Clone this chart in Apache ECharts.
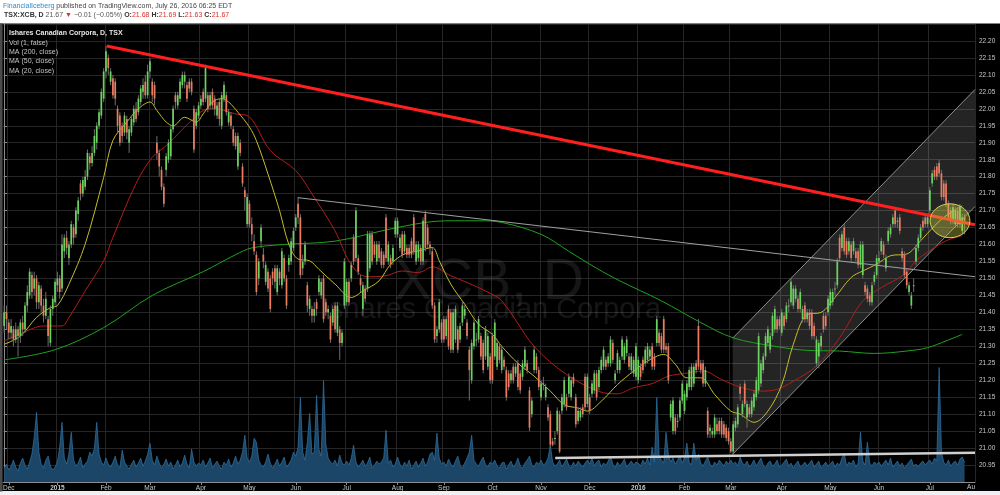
<!DOCTYPE html>
<html><head><meta charset="utf-8">
<script src="https://cdn.jsdelivr.net/npm/echarts@6/dist/echarts.min.js"></script>
<style>html,body{margin:0;padding:0;background:#000;}#c{width:1000px;height:495px;}</style>
</head><body><div id="c"></div>
<script>
const FONT = '"Liberation Sans", Arial, sans-serif';
const holidays = ['2014-12-25','2014-12-26','2015-01-01','2015-02-16','2015-04-03','2015-05-18','2015-07-01','2015-08-03','2015-09-07','2015-10-12','2015-12-25','2015-12-28','2016-01-01','2016-02-15','2016-03-25','2016-05-23','2016-07-01','2016-08-01'];
const monthNames = ['Jan','Feb','Mar','Apr','May','Jun','Jul','Aug','Sep','Oct','Nov','Dec'];
const slotCount = 420;
const yTicks = {min: 20.90, max: 22.25, step: 0.05};

// daily candles [open, close, low, high]
const candles = [
// Nov 27-28 2014
[21.36,21.40,21.34,21.42],[21.40,21.38,21.35,21.42],
// Dec 2014
[21.37,21.34,21.32,21.38],[21.34,21.36,21.32,21.38],[21.35,21.32,21.30,21.36],[21.32,21.35,21.31,21.37],[21.35,21.33,21.27,21.36],[21.33,21.37,21.31,21.38],[21.37,21.35,21.33,21.39],[21.35,21.42,21.34,21.43],[21.42,21.46,21.40,21.48],[21.45,21.52,21.44,21.53],[21.51,21.46,21.44,21.52],[21.47,21.50,21.45,21.52],[21.50,21.43,21.41,21.51],[21.43,21.48,21.41,21.49],[21.47,21.42,21.40,21.48],[21.42,21.39,21.37,21.44],[21.39,21.44,21.38,21.46],[21.38,21.33,21.30,21.39],[21.31,21.41,21.30,21.42],[21.41,21.44,21.39,21.45],[21.43,21.49,21.42,21.50],
// Jan 2015
[21.48,21.50,21.46,21.52],[21.50,21.46,21.44,21.51],[21.47,21.60,21.46,21.63],[21.58,21.62,21.56,21.63],[21.62,21.59,21.57,21.64],[21.56,21.60,21.54,21.61],[21.60,21.66,21.59,21.67],[21.65,21.62,21.60,21.66],[21.63,21.70,21.62,21.71],[21.69,21.73,21.67,21.74],[21.78,21.75,21.73,21.79],[21.75,21.79,21.74,21.80],[21.77,21.80,21.76,21.82],[21.80,21.87,21.79,21.88],[21.86,21.84,21.82,21.87],[21.84,21.87,21.83,21.89],[21.87,21.92,21.86,21.94],[21.90,21.95,21.88,21.96],[21.95,21.99,21.94,22.00],[21.98,22.05,21.97,22.06],[22.03,22.11,22.02,22.12],
// Feb 2015
[22.11,22.17,22.09,22.185],[22.15,22.12,22.10,22.16],[22.08,22.11,22.07,22.12],[22.09,22.04,22.03,22.10],[22.08,22.03,22.01,22.09],[22.00,21.95,21.93,22.01],[21.98,21.90,21.89,21.99],[21.95,21.92,21.90,21.96],[21.93,21.98,21.92,21.99],[21.97,21.93,21.91,21.98],[21.90,21.94,21.87,21.95],[21.93,21.97,21.92,21.98],[21.96,22.00,21.95,22.01],[22.00,21.97,21.96,22.02],[21.99,22.03,21.98,22.04],[22.02,22.06,22.01,22.07],[22.05,22.07,22.03,22.09],[22.08,22.04,22.03,22.10],[22.04,22.11,22.03,22.13],
// Mar 2015
[22.11,22.14,22.09,22.15],[22.08,22.04,22.02,22.09],[22.07,22.03,22.01,22.08],[21.90,21.87,21.85,21.92],[21.87,21.83,21.80,21.88],[21.82,21.77,21.76,21.83],[21.77,21.72,21.71,21.78],[21.82,21.86,21.80,21.87],[21.85,21.90,21.84,21.91],[21.86,21.94,21.85,21.95],[21.94,22.00,21.93,22.01],[22.04,22.02,22.00,22.05],[22.01,22.04,22.00,22.05],[22.03,22.08,22.02,22.09],[22.07,22.10,22.06,22.11],[22.08,22.10,22.06,22.11],[22.07,22.03,22.02,22.08],[22.08,22.06,22.05,22.09],[22.08,22.05,22.04,22.09],[22.00,21.88,21.87,22.01],[21.95,21.99,21.94,22.00],[21.98,22.01,21.97,22.02],
// Apr 2015
[22.01,22.03,22.00,22.04],[22.05,22.02,22.01,22.06],[22.03,22.12,22.02,22.13],[22.04,22.00,21.99,22.05],[22.01,22.04,22.00,22.05],[22.05,22.01,22.00,22.06],[22.03,22.00,21.98,22.04],[21.98,22.01,21.97,22.02],[22.02,21.97,21.95,22.03],[21.95,22.04,21.94,22.05],[22.03,22.07,22.02,22.08],[22.04,21.99,21.98,22.05],[21.96,21.99,21.95,22.00],[21.98,21.95,21.94,21.99],[21.94,21.90,21.89,21.95],[21.92,21.89,21.88,21.93],[21.83,21.92,21.82,21.93],[21.90,21.87,21.86,21.91],[21.83,21.78,21.77,21.84],[21.76,21.74,21.70,21.77],[21.66,21.74,21.65,21.75],
// May 2015
[21.72,21.66,21.65,21.73],[21.66,21.63,21.61,21.68],[21.61,21.58,21.57,21.63],[21.57,21.46,21.45,21.58],[21.50,21.55,21.48,21.56],[21.61,21.65,21.59,21.66],[21.57,21.55,21.53,21.59],[21.49,21.54,21.48,21.55],[21.52,21.47,21.46,21.53],[21.50,21.41,21.40,21.51],[21.52,21.50,21.48,21.53],[21.53,21.49,21.47,21.54],[21.46,21.53,21.45,21.54],[21.52,21.50,21.48,21.53],[21.48,21.58,21.47,21.59],[21.56,21.50,21.49,21.57],[21.50,21.42,21.41,21.51],[21.54,21.56,21.52,21.57],[21.55,21.61,21.54,21.62],[21.59,21.64,21.58,21.65],
// Jun 2015
[21.65,21.68,21.64,21.69],[21.72,21.68,21.66,21.74],[21.68,21.51,21.50,21.69],[21.53,21.55,21.51,21.57],[21.55,21.60,21.54,21.61],[21.48,21.42,21.40,21.49],[21.41,21.44,21.39,21.45],[21.41,21.39,21.37,21.42],[21.39,21.41,21.37,21.43],[21.43,21.41,21.39,21.44],[21.46,21.50,21.45,21.51],[21.45,21.49,21.44,21.50],[21.50,21.38,21.37,21.51],[21.43,21.40,21.39,21.44],[21.40,21.41,21.38,21.42],[21.39,21.32,21.31,21.40],[21.37,21.41,21.36,21.42],[21.42,21.35,21.34,21.43],[21.34,21.42,21.33,21.43],[21.35,21.31,21.26,21.36],[21.31,21.34,21.30,21.35],[21.42,21.55,21.41,21.56],
// Jul 2015
[21.43,21.49,21.42,21.50],[21.49,21.43,21.42,21.50],[21.50,21.54,21.49,21.55],[21.62,21.55,21.54,21.63],[21.56,21.70,21.55,21.71],[21.56,21.52,21.51,21.57],[21.50,21.48,21.46,21.51],[21.41,21.48,21.39,21.49],[21.47,21.44,21.43,21.48],[21.47,21.63,21.46,21.64],[21.53,21.63,21.52,21.64],[21.63,21.55,21.54,21.64],[21.60,21.57,21.56,21.61],[21.55,21.60,21.54,21.61],[21.60,21.56,21.55,21.61],[21.58,21.54,21.53,21.59],[21.57,21.54,21.53,21.58],[21.68,21.56,21.55,21.69],[21.55,21.60,21.54,21.61],[21.56,21.54,21.53,21.57],[21.55,21.59,21.54,21.60],[21.63,21.67,21.62,21.68],
// Aug 2015
[21.63,21.67,21.62,21.68],[21.59,21.62,21.58,21.63],[21.63,21.57,21.56,21.64],[21.58,21.63,21.57,21.64],[21.59,21.57,21.56,21.60],[21.59,21.57,21.56,21.60],[21.61,21.57,21.56,21.62],[21.68,21.58,21.57,21.69],[21.55,21.60,21.54,21.61],[21.56,21.60,21.55,21.61],[21.59,21.55,21.54,21.60],[21.55,21.67,21.54,21.68],[21.69,21.59,21.58,21.70],[21.65,21.60,21.59,21.66],[21.60,21.59,21.57,21.61],[21.58,21.42,21.41,21.59],[21.42,21.32,21.31,21.43],[21.33,21.35,21.31,21.36],[21.35,21.43,21.34,21.44],[21.37,21.32,21.31,21.38],
// Sep 2015
[21.38,21.32,21.31,21.39],[21.33,21.38,21.32,21.39],[21.41,21.30,21.29,21.42],[21.40,21.29,21.28,21.41],[21.29,21.40,21.28,21.41],[21.32,21.41,21.31,21.42],[21.35,21.29,21.28,21.36],[21.32,21.36,21.31,21.37],[21.37,21.42,21.36,21.43],[21.39,21.41,21.38,21.42],[21.37,21.33,21.32,21.38],[21.29,21.23,21.14,21.30],[21.20,21.31,21.19,21.32],[21.30,21.37,21.29,21.38],[21.32,21.32,21.30,21.34],[21.32,21.38,21.31,21.39],[21.33,21.27,21.26,21.34],[21.31,21.23,21.22,21.32],[21.27,21.35,21.26,21.36],[21.24,21.33,21.23,21.34],[21.27,21.20,21.19,21.28],
// Oct 2015
[21.33,21.20,21.19,21.34],[21.27,21.37,21.26,21.38],[21.24,21.31,21.23,21.32],[21.30,21.26,21.25,21.31],[21.23,21.29,21.22,21.30],[21.26,21.24,21.23,21.27],[21.23,21.15,21.14,21.24],[21.22,21.18,21.17,21.23],[21.20,21.22,21.19,21.23],[21.24,21.20,21.19,21.25],[21.22,21.24,21.21,21.25],[21.25,21.18,21.17,21.26],[21.22,21.17,21.16,21.23],[21.21,21.25,21.20,21.26],[21.24,21.29,21.23,21.30],[21.25,21.23,21.22,21.26],[21.17,21.06,21.05,21.18],[21.10,21.14,21.09,21.15],[21.23,21.29,21.22,21.30],[21.27,21.23,21.22,21.28],[21.23,21.18,21.17,21.24],
// Nov 2015
[21.15,21.19,21.14,21.20],[21.19,21.19,21.17,21.21],[21.15,21.18,21.14,21.19],[21.12,21.09,21.08,21.13],[21.10,21.01,21.00,21.11],[21.02,21.01,21.005,21.03],[21.03,21.03,21.01,21.05],[21.05,21.11,21.04,21.12],[21.10,20.99,20.985,21.11],[21.11,21.15,21.10,21.16],[21.13,21.20,21.12,21.21],[21.15,21.12,21.11,21.16],[21.16,21.21,21.15,21.22],[21.15,21.20,21.14,21.21],[21.21,21.19,21.18,21.22],[21.15,21.07,21.06,21.16],[21.08,21.11,21.07,21.12],[21.09,21.11,21.08,21.12],[21.12,21.10,21.09,21.13],[21.21,21.12,21.11,21.22],[21.13,21.21,21.12,21.22],
// Dec 2015
[21.15,21.11,21.10,21.16],[21.16,21.19,21.15,21.20],[21.17,21.22,21.16,21.23],[21.22,21.15,21.14,21.23],[21.18,21.23,21.17,21.24],[21.23,21.26,21.22,21.27],[21.24,21.29,21.23,21.30],[21.26,21.24,21.23,21.27],[21.25,21.27,21.24,21.28],[21.25,21.32,21.24,21.33],[21.31,21.26,21.25,21.32],[21.20,21.22,21.19,21.23],[21.23,21.28,21.22,21.29],[21.23,21.26,21.22,21.27],[21.27,21.32,21.26,21.33],[21.26,21.30,21.25,21.31],[21.28,21.32,21.27,21.33],[21.27,21.24,21.23,21.28],[21.23,21.27,21.22,21.28],[21.22,21.26,21.21,21.27],[21.21,21.30,21.20,21.31],
// Jan 2016
[21.20,21.26,21.19,21.27],[21.24,21.21,21.20,21.25],[21.26,21.23,21.22,21.27],[21.25,21.29,21.24,21.30],[21.26,21.30,21.25,21.31],[21.27,21.29,21.26,21.30],[21.30,21.24,21.23,21.31],[21.27,21.24,21.23,21.28],[21.31,21.38,21.30,21.39],[21.34,21.31,21.30,21.35],[21.33,21.29,21.28,21.34],[21.38,21.29,21.28,21.39],[21.30,21.29,21.28,21.31],[21.30,21.20,21.19,21.31],[21.09,21.13,21.08,21.14],[21.05,21.14,21.04,21.15],[21.09,21.05,21.04,21.10],[21.08,21.08,21.06,21.10],[21.09,21.14,21.08,21.15],[21.14,21.19,21.13,21.20],
// Feb 2016
[21.11,21.16,21.10,21.17],[21.15,21.19,21.14,21.20],[21.18,21.23,21.17,21.24],[21.18,21.24,21.17,21.25],[21.19,21.24,21.18,21.25],[21.25,21.23,21.22,21.26],[21.36,21.24,21.23,21.38],[21.25,21.23,21.22,21.26],[21.25,21.19,21.18,21.26],[21.19,21.23,21.18,21.24],[21.11,21.04,21.03,21.12],[21.05,21.06,21.03,21.07],[21.04,21.05,21.03,21.06],[21.04,21.09,21.03,21.10],[21.07,21.05,21.04,21.09],[21.08,21.05,21.04,21.09],[21.08,21.04,21.03,21.09],[21.07,21.04,21.03,21.08],[21.06,21.03,21.02,21.07],[21.05,21.02,21.01,21.06],
// Mar 2016
[21.02,20.99,20.985,21.03],[20.99,21.07,20.98,21.08],[21.06,21.08,21.05,21.09],[21.07,21.12,21.06,21.13],[21.18,21.16,21.14,21.19],[21.10,21.13,21.09,21.14],[21.19,21.13,21.12,21.20],[21.09,21.13,21.06,21.14],[21.12,21.10,21.09,21.13],[21.10,21.14,21.09,21.15],[21.12,21.16,21.11,21.17],[21.15,21.20,21.14,21.21],[21.17,21.33,21.16,21.34],[21.19,21.25,21.18,21.26],[21.23,21.27,21.22,21.28],[21.27,21.33,21.26,21.34],[21.31,21.35,21.30,21.36],[21.29,21.33,21.28,21.34],[21.33,21.39,21.32,21.40],[21.35,21.41,21.34,21.42],[21.38,21.35,21.34,21.39],[21.38,21.36,21.35,21.39],
// Apr 2016
[21.34,21.40,21.33,21.41],[21.39,21.36,21.35,21.40],[21.38,21.42,21.37,21.43],[21.42,21.42,21.40,21.44],[21.43,21.49,21.42,21.50],[21.42,21.47,21.41,21.48],[21.44,21.47,21.43,21.48],[21.44,21.41,21.40,21.45],[21.41,21.46,21.40,21.47],[21.38,21.41,21.37,21.42],[21.42,21.38,21.37,21.43],[21.38,21.40,21.37,21.41],[21.40,21.36,21.35,21.41],[21.40,21.33,21.32,21.41],[21.36,21.33,21.32,21.37],[21.25,21.32,21.24,21.33],[21.27,21.31,21.235,21.32],[21.30,21.33,21.29,21.34],[21.39,21.35,21.34,21.40],[21.39,21.36,21.35,21.40],[21.40,21.44,21.39,21.45],
// May 2016
[21.42,21.46,21.41,21.47],[21.43,21.46,21.42,21.47],[21.47,21.47,21.45,21.49],[21.48,21.55,21.47,21.56],[21.62,21.56,21.55,21.63],[21.59,21.63,21.58,21.64],[21.65,21.58,21.57,21.66],[21.61,21.57,21.56,21.62],[21.58,21.61,21.57,21.62],[21.60,21.56,21.55,21.61],[21.58,21.61,21.57,21.62],[21.58,21.56,21.55,21.59],[21.58,21.54,21.53,21.59],[21.54,21.60,21.53,21.61],[21.51,21.60,21.50,21.61],[21.48,21.46,21.45,21.49],[21.47,21.44,21.43,21.48],[21.45,21.43,21.42,21.46],[21.43,21.48,21.42,21.49],[21.49,21.51,21.48,21.52],[21.51,21.56,21.50,21.57],
// Jun 2016
[21.55,21.56,21.54,21.58],[21.58,21.61,21.57,21.62],[21.60,21.57,21.56,21.61],[21.53,21.56,21.52,21.57],[21.61,21.64,21.60,21.65],[21.63,21.65,21.62,21.66],[21.66,21.68,21.65,21.69],[21.70,21.66,21.65,21.71],[21.67,21.67,21.65,21.68],[21.68,21.64,21.63,21.69],[21.58,21.56,21.55,21.59],[21.57,21.51,21.50,21.58],[21.52,21.48,21.47,21.53],[21.46,21.48,21.45,21.49],[21.42,21.45,21.41,21.46],[21.48,21.48,21.46,21.50],[21.55,21.59,21.54,21.60],[21.59,21.62,21.58,21.63],[21.62,21.65,21.61,21.66],[21.67,21.65,21.64,21.68],[21.68,21.66,21.65,21.69],[21.66,21.68,21.65,21.69],
// Jul 2016
[21.70,21.76,21.69,21.77],[21.78,21.81,21.77,21.82],[21.82,21.80,21.79,21.83],[21.83,21.80,21.79,21.84],[21.84,21.81,21.80,21.85],[21.81,21.74,21.73,21.82],[21.78,21.74,21.73,21.79],[21.78,21.72,21.71,21.79],[21.72,21.68,21.67,21.73],[21.70,21.67,21.66,21.71],[21.67,21.71,21.66,21.72],[21.66,21.70,21.65,21.71],[21.70,21.66,21.65,21.71],[21.66,21.71,21.65,21.72],[21.64,21.68,21.63,21.69],[21.68,21.67,21.63,21.69]
];

// daily volume (thousands of shares)
const volumes = [
14,18,12,16,22,15,11,19,24,17,13,20,28,45,70,30,18,14,22,26,16,12,15,
20,35,60,24,18,28,50,22,16,19,25,14,18,21,30,26,34,60,28,20,17,
24,18,15,20,26,17,14,32,20,16,13,18,22,15,19,24,16,21,28,
39,22,17,26,19,14,18,23,16,20,13,17,22,15,19,27,18,14,33,20,16,19,
17,22,15,19,24,14,18,21,16,13,20,17,23,15,19,26,18,22,30,47,24,
20,26,44,40,22,17,15,20,28,19,14,18,23,16,20,25,15,18,22,30,
26,35,85,30,22,40,69,28,30,87,33,26,102,38,24,20,18,22,16,27,19,17,
21,17,24,37,20,15,18,22,16,19,25,14,17,21,18,20,24,52,19,22,15,18,
25,18,14,20,16,22,13,17,21,15,19,24,16,20,28,30,22,49,24,18,
20,16,23,18,15,21,26,17,14,19,24,30,47,22,18,16,21,25,17,15,20,
18,22,16,14,19,20,13,17,21,15,18,24,16,14,19,22,26,17,15,20,18,
22,17,19,24,37,20,16,18,22,15,19,23,17,14,20,16,21,18,15,19,22,
18,24,16,20,22,15,19,17,21,26,18,14,20,16,19,23,15,18,21,17,20,
19,16,22,18,24,17,35,20,85,26,22,19,50,28,20,24,18,22,26,19,
24,39,20,17,39,22,28,19,16,21,25,18,15,20,17,22,19,16,21,18,
22,18,20,16,25,19,17,21,15,18,22,16,20,24,17,14,19,21,16,18,22,15,
17,20,23,16,19,14,18,21,15,17,20,16,19,22,15,18,21,14,17,20,16,
18,21,15,19,17,24,29,16,20,18,22,15,19,50,21,17,40,19,16,20,18,
20,16,19,22,17,24,15,18,21,16,19,14,17,20,23,16,18,15,19,21,17,20,
22,18,24,21,115,30,20,17,22,16,19,21,17,23,25,20
];

// moving averages read at key bars [barIndex, value]
const ma200Pts = [[0,21.26],[22,21.29],[43,21.355],[64,21.45],[86,21.52],[100,21.57],[107,21.59],[121,21.60],[143,21.61],[165,21.643],[182,21.665],[193,21.67],[205,21.67],[215,21.665],[232,21.63],[244,21.58],[256,21.53],[266,21.493],[284,21.434],[301,21.37],[315,21.325],[333,21.30],[347,21.288],[361,21.286],[376,21.279],[390,21.286],[399,21.296],[407,21.316],[414,21.335]];
const ma50Pts = [[0,21.316],[8,21.34],[17,21.36],[25,21.36],[28,21.385],[35,21.463],[43,21.552],[47,21.621],[57,21.78],[64,21.857],[71,21.897],[80,21.96],[86,21.995],[91,22.00],[100,21.985],[106,21.976],[115,21.877],[126,21.818],[133,21.749],[143,21.64],[150,21.54],[157,21.505],[165,21.508],[172,21.522],[179,21.517],[185,21.534],[193,21.508],[200,21.488],[208,21.463],[215,21.434],[229,21.30],[243,21.217],[257,21.167],[265,21.16],[272,21.178],[280,21.19],[287,21.212],[294,21.22],[302,21.227],[310,21.202],[318,21.18],[327,21.168],[334,21.173],[341,21.197],[351,21.242],[361,21.325],[371,21.434],[379,21.473],[389,21.512],[394,21.552],[400,21.582],[407,21.611],[414,21.626]];
const ma20Pts = [[0,21.306],[7,21.33],[14,21.385],[20,21.414],[23,21.42],[28,21.483],[35,21.601],[43,21.798],[47,21.907],[53,21.961],[58,22.00],[63,22.02],[66,21.995],[70,21.961],[73,21.95],[78,21.975],[83,21.961],[86,21.985],[90,22.02],[94,22.03],[97,22.02],[101,21.99],[106,21.946],[109,21.906],[114,21.808],[119,21.70],[123,21.601],[127,21.557],[132,21.552],[136,21.527],[143,21.483],[150,21.444],[155,21.463],[162,21.493],[167,21.542],[173,21.572],[179,21.581],[185,21.591],[188,21.552],[193,21.483],[199,21.424],[205,21.365],[211,21.335],[215,21.30],[222,21.25],[229,21.212],[236,21.168],[242,21.128],[248,21.118],[252,21.109],[258,21.138],[265,21.187],[272,21.227],[278,21.256],[285,21.276],[290,21.247],[295,21.207],[301,21.207],[307,21.158],[314,21.109],[318,21.10],[324,21.076],[330,21.109],[336,21.187],[341,21.306],[347,21.394],[353,21.40],[359,21.444],[366,21.503],[371,21.522],[377,21.542],[383,21.567],[390,21.572],[396,21.611],[402,21.655],[407,21.685],[414,21.714]];

// drawings [barIndex, price]
const resistanceLine = [[44.3,22.185],[419.5,21.658]];
const grayTrendLine = [[127,21.738],[419.5,21.505]];
const supportLine = [[238.1,20.971],[419.5,20.986]];
const channelUpper = [[314.8,21.324],[419.5,22.057]];
const channelLower = [[314.8,20.982],[419.5,21.712]];
const highlight = {center:[408.7,21.670], rx:8.6, ry:0.05};

// trading-day categories
const dates = [];
(function(){
  const hs = new Set(holidays);
  const d = new Date(Date.UTC(2014,10,27));
  while (dates.length < slotCount) {
    const dow = d.getUTCDay(); const s = d.toISOString().slice(0,10);
    if (dow !== 0 && dow !== 6 && !hs.has(s)) dates.push(s);
    d.setUTCDate(d.getUTCDate()+1);
  }
})();
const monthStart = dates.map((s,i)=> i>0 && s.slice(0,7)!==dates[i-1].slice(0,7));
const monthTick = (i)=> !!monthStart[i];
const monthLabel = (v)=>{ const m=+v.slice(5,7); return m===1 ? '{y|'+v.slice(0,4)+'}' : monthNames[m-1]; };

const UP='#6ad35e', DOWN='#ec7b60', WICK='#6e6e6e';
const candleData = candles.map((d,i)=>[i,d[0],d[1],d[2],d[3]]);
const last = candles[candles.length-1];
const prevClose = candles[candles.length-2][1];
const chg = last[1]-prevClose;
const fmt = v=> (v<0?'\u2212':'')+Math.abs(v).toFixed(2);

function renderCandle(params, api){
  const i=api.value(0), o=api.value(1), c=api.value(2), l=api.value(3), h=api.value(4);
  const po=api.coord([i,o]), pc=api.coord([i,c]), pl=api.coord([i,l]), ph=api.coord([i,h]);
  const slot=api.size([1,0])[0];
  const bw=Math.max(1,slot*0.74);
  const x=po[0];
  const top=Math.min(po[1],pc[1]), bh=Math.max(1,Math.abs(po[1]-pc[1]));
  return {type:'group',children:[
    {type:'line',shape:{x1:x,y1:ph[1],x2:x,y2:pl[1]},style:{stroke:WICK,lineWidth:1}},
    {type:'rect',shape:{x:x-bw/2,y:top,width:bw,height:bh},style:{fill:c>=o?UP:DOWN}}
  ]};
}
function lineSeries(name,data,color,width,z,extra){
  return Object.assign({name,type:'line',xAxisIndex:1,yAxisIndex:0,data,symbol:'none',silent:true,z,
    lineStyle:{color,width},animation:false},extra||{});
}

const chart = echarts.init(document.getElementById('c'), null, {renderer:'canvas', width:1000, height:495});
const axisText = {color:'#c8c8c8', fontSize:6.5, fontFamily:FONT};
chart.setOption({
  animation:false,
  backgroundColor:'#000',
  grid:{left:0,right:25,top:24,bottom:13},
  xAxis:[
    {type:'category',data:dates,boundaryGap:true,
     axisLine:{show:true,lineStyle:{color:'#8c8c8c'}},
     axisTick:{show:true,alignWithLabel:true,length:3,interval:monthTick,lineStyle:{color:'#8c8c8c'}},
     axisLabel:Object.assign({interval:monthTick,formatter:monthLabel,margin:3,
       rich:{y:Object.assign({fontWeight:'bold'},axisText)}},axisText),
     splitLine:{show:true,interval:monthTick,lineStyle:{color:'#262626',width:1}}},
    {type:'value',min:-0.5,max:slotCount-0.5,show:false}
  ],
  yAxis:[
    {type:'value',position:'right',min:yTicks.min,max:yTicks.max,interval:yTicks.step,
     axisLine:{show:true,lineStyle:{color:'#8c8c8c'}},
     axisTick:{show:true,length:3,lineStyle:{color:'#8c8c8c'}},
     axisLabel:Object.assign({margin:4,showMinLabel:false,showMaxLabel:false,formatter:v=>v.toFixed(2)},axisText),
     splitLine:{show:true,lineStyle:{color:'#262626'}}},
    {type:'value',min:0,max:460,show:false}
  ],
  series:[
    {name:'Vol',type:'line',xAxisIndex:0,yAxisIndex:1,data:volumes,symbol:'none',silent:true,z:1,
     lineStyle:{color:'#3174a6',width:0.7},areaStyle:{color:'#1b4667',opacity:1}},
    {name:'channelFill',type:'custom',xAxisIndex:1,yAxisIndex:0,silent:true,z:2,clip:true,
     data:[channelUpper[0]],
     renderItem:(p,api)=>({type:'polygon',shape:{points:[api.coord(channelUpper[0]),api.coord(channelUpper[1]),api.coord(channelLower[1]),api.coord(channelLower[0])]},
       style:{fill:'rgba(255,255,255,0.14)'}})},
    lineSeries('chanUp',channelUpper,'#8f8f8f',1,3),
    lineSeries('chanLo',channelLower,'#8f8f8f',1,3),
    lineSeries('MA200',ma200Pts,'#1fa21f',1,4,{smooth:0.35}),
    lineSeries('MA50',ma50Pts,'#b31c1c',1,4,{smooth:0.35}),
    lineSeries('MA20',ma20Pts,'#c4bd2c',1,4,{smooth:0.35,
      markLine:{silent:true,symbol:['none','none'],animation:false,data:[{yAxis:last[1]}],lineStyle:{opacity:0},
        label:{show:true,position:'end',distance:1,formatter:last[1].toFixed(2),color:'#fff',backgroundColor:'#e3302c',
          fontSize:6.5,fontFamily:FONT,fontWeight:'bold',padding:[2,3,2,3]}}}),
    {name:'price',type:'custom',xAxisIndex:1,yAxisIndex:0,data:candleData,renderItem:renderCandle,
     encode:{x:0,y:[1,2,3,4]},silent:true,z:5,clip:true},
    lineSeries('grayTrend',grayTrendLine,'#a0a0a0',1,6),
    lineSeries('support',supportLine,'#cfcfcf',2.5,6),
    lineSeries('resistance',resistanceLine,'#ff1f1f',3,7),
    {name:'highlight',type:'custom',xAxisIndex:1,yAxisIndex:0,silent:true,z:8,clip:true,
     data:[highlight.center],
     renderItem:(p,api)=>{const c=api.coord(highlight.center);
       const rx=api.size([highlight.rx,0])[0], ry=api.size([0,highlight.ry])[1];
       return {type:'ellipse',shape:{cx:c[0],cy:c[1],rx,ry},style:{fill:'rgba(205,205,70,0.38)',stroke:'#d2d25a',lineWidth:1}};}}
  ],
  graphic:[
    {type:'text',z:1,silent:true,x:489,y:255,style:{text:'XCB, D',fill:'rgba(255,255,255,0.085)',font:'57px '+FONT,textAlign:'center',verticalAlign:'alphabetic'}},
    {type:'text',z:1,silent:true,x:491,y:295,style:{text:'Ishares Canadian Corpora',fill:'rgba(255,255,255,0.085)',font:'29px '+FONT,textAlign:'center',verticalAlign:'alphabetic'}},
    {type:'rect',z:50,silent:true,shape:{x:0,y:0,width:1000,height:23.5},style:{fill:'#ffffff'}},
    {type:'rect',z:50,silent:true,shape:{x:0,y:491,width:1000,height:4},style:{fill:'#eef0f4'}},
    {type:'text',z:51,silent:true,x:3,y:6,style:{text:'{a|FinancialIceberg}{b| published on TradingView.com, July 26, 2016 06:25 EDT}',verticalAlign:'middle',
      rich:{a:{fill:'#2e8bcf',fontSize:7,fontFamily:FONT},b:{fill:'#444',fontSize:7,fontFamily:FONT}}}},
    {type:'text',z:51,silent:true,x:4,y:15.5,style:{
      text:'{b|TSX:XCB, D}{n| '+last[1].toFixed(2)+' }{r|\u25BC}{n| '+fmt(chg)+' ('+fmt(chg/prevClose*100)+'%) }{b|O:}{r|'+last[0].toFixed(2)+'}{b| H:}{r|'+last[3].toFixed(2)+'}{b| L:}{r|'+last[2].toFixed(2)+'}{b| C:}{r|'+last[1].toFixed(2)+'}',
      verticalAlign:'middle',
      rich:{b:{fill:'#333',fontSize:7,fontWeight:'bold',fontFamily:FONT},n:{fill:'#555',fontSize:7,fontFamily:FONT},r:{fill:'#d9302c',fontSize:7,fontFamily:FONT}}}},
    {type:'text',z:51,silent:true,x:9,y:33.5,style:{text:'Ishares Canadian Corpora, D, TSX',fill:'#e6e6e6',font:'bold 7px '+FONT,verticalAlign:'middle'}},
    {type:'text',z:51,silent:true,x:9,y:42.7,style:{text:'Vol (1, false)',fill:'#c4c4c4',font:'7px '+FONT,verticalAlign:'middle'}},
    {type:'text',z:51,silent:true,x:9,y:52,style:{text:'MA (200, close)',fill:'#c4c4c4',font:'7px '+FONT,verticalAlign:'middle'}},
    {type:'text',z:51,silent:true,x:9,y:61.3,style:{text:'MA (50, close)',fill:'#c4c4c4',font:'7px '+FONT,verticalAlign:'middle'}},
    {type:'text',z:51,silent:true,x:9,y:70.7,style:{text:'MA (20, close)',fill:'#c4c4c4',font:'7px '+FONT,verticalAlign:'middle'}},
    {type:'text',z:51,silent:true,x:975,y:487.5,style:{text:'Au',fill:'#c8c8c8',font:'6.5px '+FONT,textAlign:'right',verticalAlign:'middle'}},
    {type:'rect',z:52,silent:true,shape:{x:0,y:23.5,width:2.5,height:468},style:{fill:'#4a4a4a'}}
  ]
});
</script></body></html>
